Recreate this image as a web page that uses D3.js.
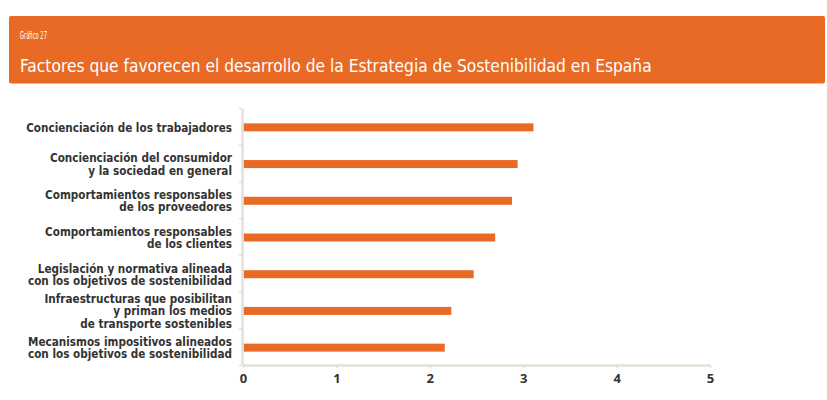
<!DOCTYPE html>
<html>
<head>
<meta charset="utf-8">
<script src="https://cdn.jsdelivr.net/npm/d3@7"></script>
<style>
  body { margin: 0; background: #fff; }
  svg { display: block; }
</style>
</head>
<body>
<div id="chart"></div>
<script>
// chart data
const chartLabel = "Gráfico 27";
const chartTitle = "Factores que favorecen el desarrollo de la Estrategia de Sostenibilidad en España";
const categories = [
  "Concienciación de los trabajadores",
  "Concienciación del consumidor\ny la sociedad en general",
  "Comportamientos responsables\nde los proveedores",
  "Comportamientos responsables\nde los clientes",
  "Legislación y normativa alineada\ncon los objetivos de sostenibilidad",
  "Infraestructuras que posibilitan\ny priman los medios\nde transporte sostenibles",
  "Mecanismos impositivos alineados\ncon los objetivos de sostenibilidad"
];
const values = [3.11, 2.94, 2.88, 2.70, 2.47, 2.23, 2.16];
const xTicks = [0, 1, 2, 3, 4, 5];

const orange = "#e96a24";
const axisColor = "#e4dfd7";
const textColor = "#333333";
const labelFont = "'DejaVu Sans Condensed', 'Liberation Sans', sans-serif";

const W = 827, H = 400;
const svg = d3.select("#chart").append("svg")
  .attr("width", W)
  .attr("height", H);

// header band
svg.append("rect")
  .attr("x", 9).attr("y", 16)
  .attr("width", 816).attr("height", 67.5)
  .attr("rx", 2)
  .attr("fill", orange);

// squeeze a header text to a target width
function fitText(sel, x0, y0, target) {
  const w = sel.node().getComputedTextLength();
  sel.attr("transform", `translate(${x0},${y0}) scale(${target / w},1)`);
}

const label = svg.append("text")
  .attr("fill", "#fff")
  .attr("font-family", labelFont)
  .attr("font-size", 10.5)
  .text(chartLabel);
fitText(label, 20, 38.5, 27);

const title = svg.append("text")
  .attr("fill", "#fff")
  .attr("font-family", labelFont)
  .attr("font-size", 18)
  .text(chartTitle);
fitText(title, 20, 71.5, 632);

// scales
const x = d3.scaleLinear().domain([0, 5]).range([243, 710]);
const y = d3.scaleBand().domain(categories).range([108, 365]).padding(0);
const yEdges = d3.scaleLinear().domain([0, categories.length]).range([108, 365]);

// bars
svg.append("g")
  .selectAll("rect")
  .data(values)
  .join("rect")
  .attr("x", x(0) + 0.5)
  .attr("y", (d, i) => y(categories[i]) + y.bandwidth() / 2 - 3)
  .attr("width", d => x(d) - x(0) - 0.5)
  .attr("height", 8)
  .attr("fill", orange);

// y axis (boundaries between categories)
const yAxis = svg.append("g")
  .attr("transform", `translate(${x(0) - 1},0)`)
  .call(d3.axisLeft(yEdges).tickValues(d3.range(categories.length + 1)).tickSize(3).tickSizeOuter(0).tickFormat(""));
yAxis.select(".domain").attr("stroke", axisColor).attr("stroke-width", 2.5);
yAxis.selectAll(".tick line").attr("stroke", axisColor).attr("stroke-width", 1.5);

// x axis
const xAxis = svg.append("g")
  .attr("transform", `translate(0,${365})`)
  .call(d3.axisBottom(x).tickValues(xTicks).tickSize(3).tickSizeOuter(0).tickPadding(6).tickFormat(d3.format("d")));
xAxis.select(".domain").attr("stroke", axisColor).attr("stroke-width", 2.5);
xAxis.selectAll(".tick text")
  .attr("fill", textColor)
  .attr("font-family", "'Open Sans', 'DejaVu Sans', sans-serif")
  .attr("font-weight", "bold")
  .attr("font-size", 13);
xAxis.selectAll(".tick line").attr("stroke", axisColor).attr("stroke-width", 1.5);

// category labels
const lineH = 12.4;
const labels = svg.append("g")
  .selectAll("text")
  .data(categories)
  .join("text")
  .attr("text-anchor", "end")
  .attr("fill", textColor)
  .attr("font-family", labelFont)
  .attr("font-weight", "bold")
  .attr("font-size", 12.5)
  .attr("transform", d => `translate(232,${y(d) + y.bandwidth() / 2 + 1}) scale(0.93,1)`);

labels.each(function(d) {
  const lines = d.split("\n");
  const t = d3.select(this);
  lines.forEach((ln, j) => {
    t.append("tspan")
      .attr("x", 0)
      .attr("dy", j === 0 ? ((-(lines.length - 1) / 2) * lineH + 4.5) : lineH)
      .text(ln);
  });
});
</script>
</body>
</html>
